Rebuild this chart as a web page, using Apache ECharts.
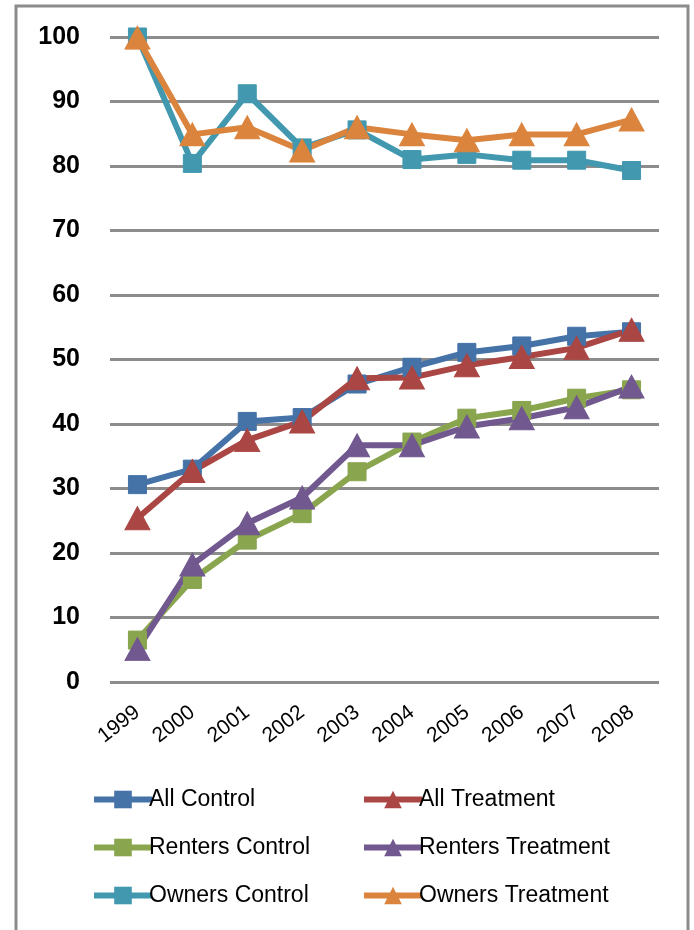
<!DOCTYPE html>
<html>
<head>
<meta charset="utf-8">
<script src="https://cdn.jsdelivr.net/npm/echarts@6/dist/echarts.min.js"></script>
<style>
  html, body {margin: 0; padding: 0; background: #fff;}
  #chart {width: 694px; height: 930px;}
</style>
</head>
<body>
<div id="chart"></div>
<script>
const years = ['1999', '2000', '2001', '2002', '2003', '2004', '2005', '2006', '2007', '2008'];
const allControl = [30.6, 33.0, 40.4, 41.0, 46.2, 48.8, 51.1, 52.1, 53.6, 54.3];
const allTreatment = [25.4, 32.7, 37.5, 40.4, 47.1, 47.2, 49.1, 50.4, 51.8, 54.6];
const rentersControl = [6.5, 15.9, 22.0, 26.1, 32.6, 37.2, 40.9, 42.1, 44.0, 45.3];
const rentersTreatment = [5.1, 18.2, 24.6, 28.6, 36.7, 36.7, 39.6, 40.9, 42.6, 45.8];
const ownersControl = [100.0, 80.4, 91.2, 82.8, 85.6, 81.0, 81.8, 80.9, 80.9, 79.3];
const ownersTreatment = [99.9, 84.9, 86.0, 82.4, 86.0, 84.9, 84.0, 84.9, 84.9, 87.2];

const chart = echarts.init(document.getElementById('chart'));

const mk = (name, data, color, symbol) => ({
  name: name,
  type: 'line',
  data: data,
  symbol: symbol,
  symbolSize: symbol === 'rect' ? 18 : [25, 23],
  lineStyle: {color: color, width: 6},
  itemStyle: {color: color, borderColor: color, borderWidth: 1},
  emphasis: {disabled: true},
  animation: false
})

const legendText = {fontFamily: 'Liberation Sans', fontSize: 23, color: '#000', padding: [0, 0, 0, -8]}

const legendBase = {
  orient: 'vertical', top: 783, itemGap: 25,
  itemWidth: 58, itemHeight: 22, textStyle: legendText,
  lineStyle: {width: 6}, itemStyle: {borderWidth: 0}
}

const option = {
  backgroundColor: '#fff',
  graphic: [{
    type: 'rect',
    shape: {x: 16, y: 6, width: 672, height: 940},
    style: {fill: null, stroke: '#8c8c8c', lineWidth: 3}
  }],
  grid: {left: 110, right: 35, top: 37, bottom: 248},
  legend: [
    Object.assign({data: ['All Control', 'Renters Control', 'Owners Control'], left: 86}, legendBase),
    Object.assign({data: ['All Treatment', 'Renters Treatment', 'Owners Treatment'], left: 356}, legendBase)
  ],
  xAxis: {
    type: 'category',
    data: years,
    boundaryGap: true,
    axisLine: {show: false},
    axisTick: {show: false},
    axisLabel: {
      rotate: 38, margin: 28, fontFamily: 'Liberation Sans', fontSize: 21, color: '#000'
    }
  },
  yAxis: {
    type: 'value',
    min: 0, max: 100, interval: 10,
    axisLine: {show: false},
    axisTick: {show: false},
    splitLine: {lineStyle: {color: '#8c8c8c', width: 3}},
    axisLabel: {
      margin: 30, fontFamily: 'Liberation Sans', fontWeight: 'bold', fontSize: 25, color: '#000'
    }
  },
  series: [
    mk('All Control', allControl, '#4572A7', 'rect'),
    mk('All Treatment', allTreatment, '#AA4643', 'triangle'),
    mk('Renters Control', rentersControl, '#89A54E', 'rect'),
    mk('Renters Treatment', rentersTreatment, '#71588F', 'triangle'),
    mk('Owners Control', ownersControl, '#4198AF', 'rect'),
    mk('Owners Treatment', ownersTreatment, '#DB843D', 'triangle')
  ]
};

chart.setOption(option);
</script>
</body>
</html>
